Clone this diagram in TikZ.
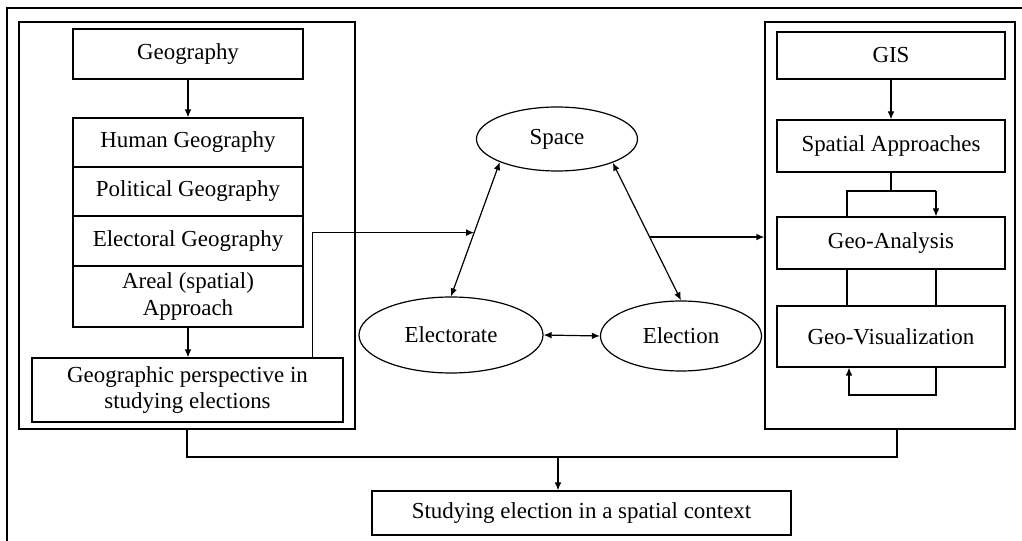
\documentclass[tikz,border=0pt]{standalone}
\usepackage{fontspec}
\setmainfont{Liberation Serif}
\usetikzlibrary{arrows.meta,shapes.geometric,calc}
\newcommand{\pxu}{0.75pt}
\begin{document}
\begin{tikzpicture}[x=0.75pt,y=-0.75pt,
  every node/.style={font=\fontsize{17.2}{20}\selectfont},
  box/.style={draw,line width=0.9pt,rectangle,inner sep=0pt,align=center},
  oval/.style={draw,line width=0.9pt,ellipse,inner sep=0pt},
  frame/.style={draw,line width=0.9pt,rectangle,inner sep=0pt},
  conn/.style={line width=0.9pt},
  arr/.style={line width=0.9pt,-{Latex[length=6pt,width=5pt]}},
  darr/.style={line width=0.9pt,{Latex[length=6pt,width=5pt]}-{Latex[length=6pt,width=5pt]}}]
\useasboundingbox (0,0) rectangle (1022,541);
% outer frame (only top and left edges visible)
\draw[line width=1.1pt] (7,545) -- (7,8) -- (1026,8);
% containers
\node[frame,minimum width=336*\pxu,minimum height=407*\pxu] (lc) at (187,225.5) {};
\node[frame,minimum width=250*\pxu,minimum height=407*\pxu] (rc) at (890,225.5) {};
% left column
\node[box,minimum width=230*\pxu,minimum height=50*\pxu] (geo) at (188,54) {Geography};
\node[box,minimum width=230*\pxu,minimum height=49*\pxu] (hum) at (188,142.5) {Human Geography};
\node[box,minimum width=230*\pxu,minimum height=49*\pxu] (pol) at (188,191.5) {Political Geography};
\node[box,minimum width=230*\pxu,minimum height=50*\pxu] (elg) at (188,241) {Electoral Geography};
\node[box,minimum width=230*\pxu,minimum height=61*\pxu] (are) at (188,296.5) {Areal (spatial)\\Approach};
\node[box,minimum width=311*\pxu,minimum height=64*\pxu] (gp) at (187.5,390) {Geographic perspective in\\studying elections};
\draw[arr] (geo.south) -- (hum.north);
\draw[arr] (are.south) -- (are.south |- gp.north);
% right column
\node[box,minimum width=228*\pxu,minimum height=47*\pxu] (gis) at (891,55.5) {GIS};
\node[box,minimum width=228*\pxu,minimum height=52*\pxu] (sa) at (891,146) {Spatial Approaches};
\node[box,minimum width=228*\pxu,minimum height=52*\pxu] (ga) at (891,243) {Geo-Analysis};
\node[box,minimum width=228*\pxu,minimum height=61*\pxu] (gv) at (891,336.5) {Geo-Visualization};
\draw[arr] (gis.south) -- (sa.north);
\coordinate (s1) at (891,191);
\coordinate (sl) at (847,191);
\coordinate (sr) at (936,191);
\draw[conn] (sa.south) -- (s1);
\draw[conn] (sl |- ga.north) -- (sl) -- (sr);
\draw[arr] (sr) -- (sr |- ga.north);
\draw[conn] (sl |- ga.south) -- (sl |- gv.north);
\draw[conn] (sr |- ga.south) -- (sr |- gv.north);
\coordinate (l1) at (936,395);
\coordinate (l2) at (849,395);
\draw[arr] (l1 |- gv.south) -- (l1) -- (l2) -- (l2 |- gv.south);
% ellipses
\node[oval,minimum width=161*\pxu,minimum height=64*\pxu] (space) at (557,139) {Space};
\node[oval,minimum width=184*\pxu,minimum height=76*\pxu] (elect) at (451,335) {Electorate};
\node[oval,minimum width=161*\pxu,minimum height=70*\pxu] (elec) at (681,336) {Election};
\coordinate (a1) at (space.202.8);
\coordinate (a2) at (elect.north);
\coordinate (b1) at (space.337.5);
\coordinate (b2) at (elec.north);
\draw[darr] (a1) -- (a2);
\draw[darr] (b1) -- (b2);
\draw[darr] (elect.east) -- (elec.west);
\coordinate (m1) at ($(a1)!0.525!(a2)$);
\coordinate (m2) at ($(b1)!0.54!(b2)$);
\draw[arr] ([xshift=-31*\pxu]gp.north east) |- (m1);
\draw[arr] (m2) -- (m2 -| rc.west);
% bottom
\node[box,minimum width=419*\pxu,minimum height=44*\pxu] (bot) at (581.5,513) {Studying election in a spatial context};
\coordinate (j1) at (558,457);
\coordinate (jr) at (897,457);
\draw[conn] (lc.south) |- (j1) -- (jr) -- (jr |- rc.south);
\draw[arr] (j1) -- (j1 |- bot.north);
\end{tikzpicture}
\end{document}
